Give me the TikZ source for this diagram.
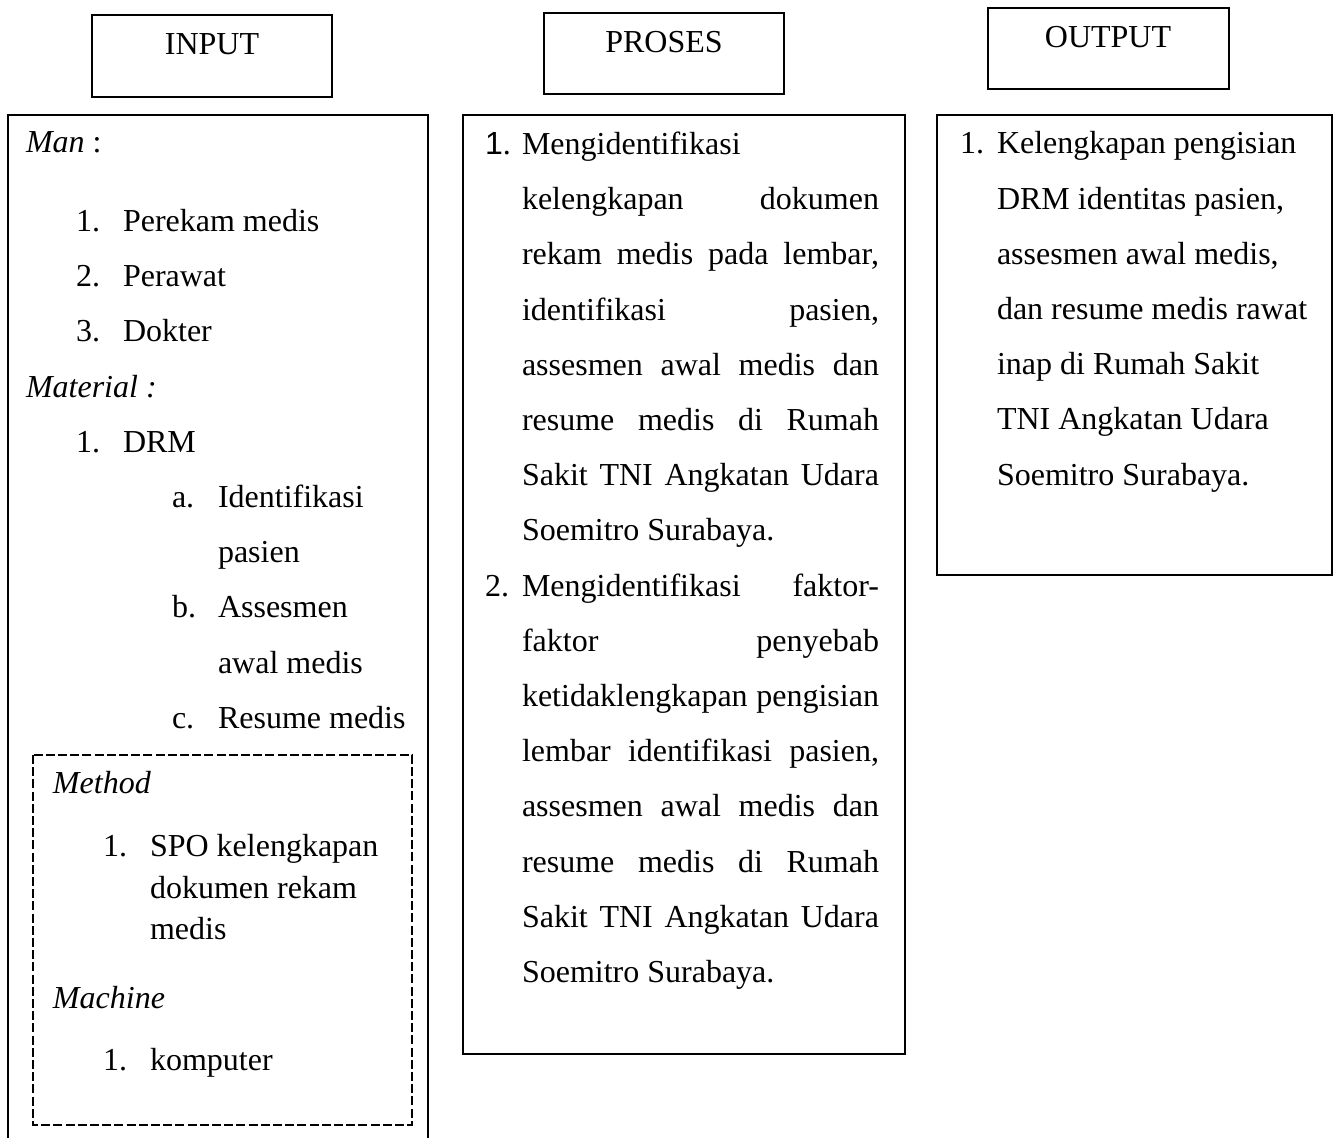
\documentclass[tikz,border=0pt]{standalone}
\usepackage{fontspec}
\setmainfont{Liberation Serif}
\newfontfamily\arialf{Liberation Sans}
\tikzset{
  frame/.style={draw=black, line width=0.65pt},
  dframe/.style={draw=black, line width=0.65pt, dash pattern=on 4.5pt off 1.6pt},
  txt/.style={anchor=base west, inner sep=0pt, outer sep=0pt, font=\fontsize{16}{19}\selectfont},
  hdr/.style={anchor=base, inner sep=0pt, outer sep=0pt, font=\fontsize{16}{19}\selectfont},
}
\newcommand{\jl}[1]{\makebox[178.5pt][s]{#1}}
\begin{document}
\begin{tikzpicture}[x=0.5pt,y=-0.5pt]
\useasboundingbox (0,0) rectangle (1335,1138);
% header boxes
\draw[frame] (92,15) rectangle (332,97);
\node[hdr] (hin) at (212,55) {INPUT};
\draw[frame] (544,13) rectangle (784,94);
\node[hdr] (hpr) at (664,53) {PROSES};
\draw[frame] (988,8) rectangle (1229,89);
\node[hdr] (hout) at (1108,48) {OUTPUT};
% main boxes
\draw[frame] (8,1140) -- (8,115) -- (428,115) -- (428,1140);
\draw[dframe] (33,755) rectangle (412,1125);
\draw[frame] (463,115) rectangle (905,1054);
\draw[frame] (937,115) rectangle (1332,575);
% INPUT contents
\node[txt] (man) at (26,153) {\textit{Man} :};
\node[txt] (n1) at (76,231.5) {1.};
\node[txt] (m1) at (123,231.5) {Perekam medis};
\node[txt] (n2) at (76,286.7) {2.};
\node[txt] (m2) at (123,286.7) {Perawat};
\node[txt] (n3) at (76,341.9) {3.};
\node[txt] (m3) at (123,341.9) {Dokter};
\node[txt] (mat) at (26,397.1) {\textit{Material :}};
\node[txt] (n4) at (76,452.3) {1.};
\node[txt] (drm) at (123,452.3) {DRM};
\node[txt] (la) at (172,507.5) {a.};
\node[txt] (sa1) at (218,507.5) {Identifikasi};
\node[txt] (sa2) at (218,562.7) {pasien};
\node[txt] (lb) at (172,617.9) {b.};
\node[txt] (sb1) at (218,617.9) {Assesmen};
\node[txt] (sb2) at (218,673.1) {awal medis};
\node[txt] (lc) at (172,728.3) {c.};
\node[txt] (sc1) at (218,728.3) {Resume medis};
% dashed box contents
\node[txt] (meth) at (53,794) {\textit{Method}};
\node[txt] (n5) at (103,857) {1.};
\node[txt] (spo1) at (150,857) {SPO kelengkapan};
\node[txt] (spo2) at (150,898.5) {dokumen rekam};
\node[txt] (spo3) at (150,940) {medis};
\node[txt] (mach) at (53,1008) {\textit{Machine}};
\node[txt] (n6) at (103,1071) {1.};
\node[txt] (komp) at (150,1071) {komputer};
% PROSES contents
\node[txt] (p1n) at (485,154.5) {{\arialf 1}.};
\node[txt] (p1a) at (522,154.5) {Mengidentifikasi};
\node[txt] (p1b) at (522,209.7) {\jl{kelengkapan dokumen}};
\node[txt] (p1c) at (522,264.9) {\jl{rekam medis pada lembar,}};
\node[txt] (p1d) at (522,320.1) {\jl{identifikasi pasien,}};
\node[txt] (p1e) at (522,375.3) {\jl{assesmen awal medis dan}};
\node[txt] (p1f) at (522,430.5) {\jl{resume medis di Rumah}};
\node[txt] (p1g) at (522,485.7) {\jl{Sakit TNI Angkatan Udara}};
\node[txt] (p1h) at (522,540.9) {Soemitro Surabaya.};
\node[txt] (p2n) at (485,596.1) {2.};
\node[txt] (p2a) at (522,596.1) {\jl{Mengidentifikasi faktor-}};
\node[txt] (p2b) at (522,651.3) {\jl{faktor penyebab}};
\node[txt] (p2c) at (522,706.5) {\jl{ketidaklengkapan pengisian}};
\node[txt] (p2d) at (522,761.7) {\jl{lembar identifikasi pasien,}};
\node[txt] (p2e) at (522,816.9) {\jl{assesmen awal medis dan}};
\node[txt] (p2f) at (522,872.1) {\jl{resume medis di Rumah}};
\node[txt] (p2g) at (522,927.3) {\jl{Sakit TNI Angkatan Udara}};
\node[txt] (p2h) at (522,982.5) {Soemitro Surabaya.};
% OUTPUT contents
\node[txt] (o1n) at (960,154) {1.};
\node[txt] (o1a) at (997,154) {Kelengkapan pengisian};
\node[txt] (o1b) at (997,209.2) {DRM identitas pasien,};
\node[txt] (o1c) at (997,264.4) {assesmen awal medis,};
\node[txt] (o1d) at (997,319.6) {dan resume medis rawat};
\node[txt] (o1e) at (997,374.8) {inap di Rumah Sakit};
\node[txt] (o1f) at (997,430) {TNI Angkatan Udara};
\node[txt] (o1g) at (997,485.2) {Soemitro Surabaya.};
\end{tikzpicture}
\end{document}
